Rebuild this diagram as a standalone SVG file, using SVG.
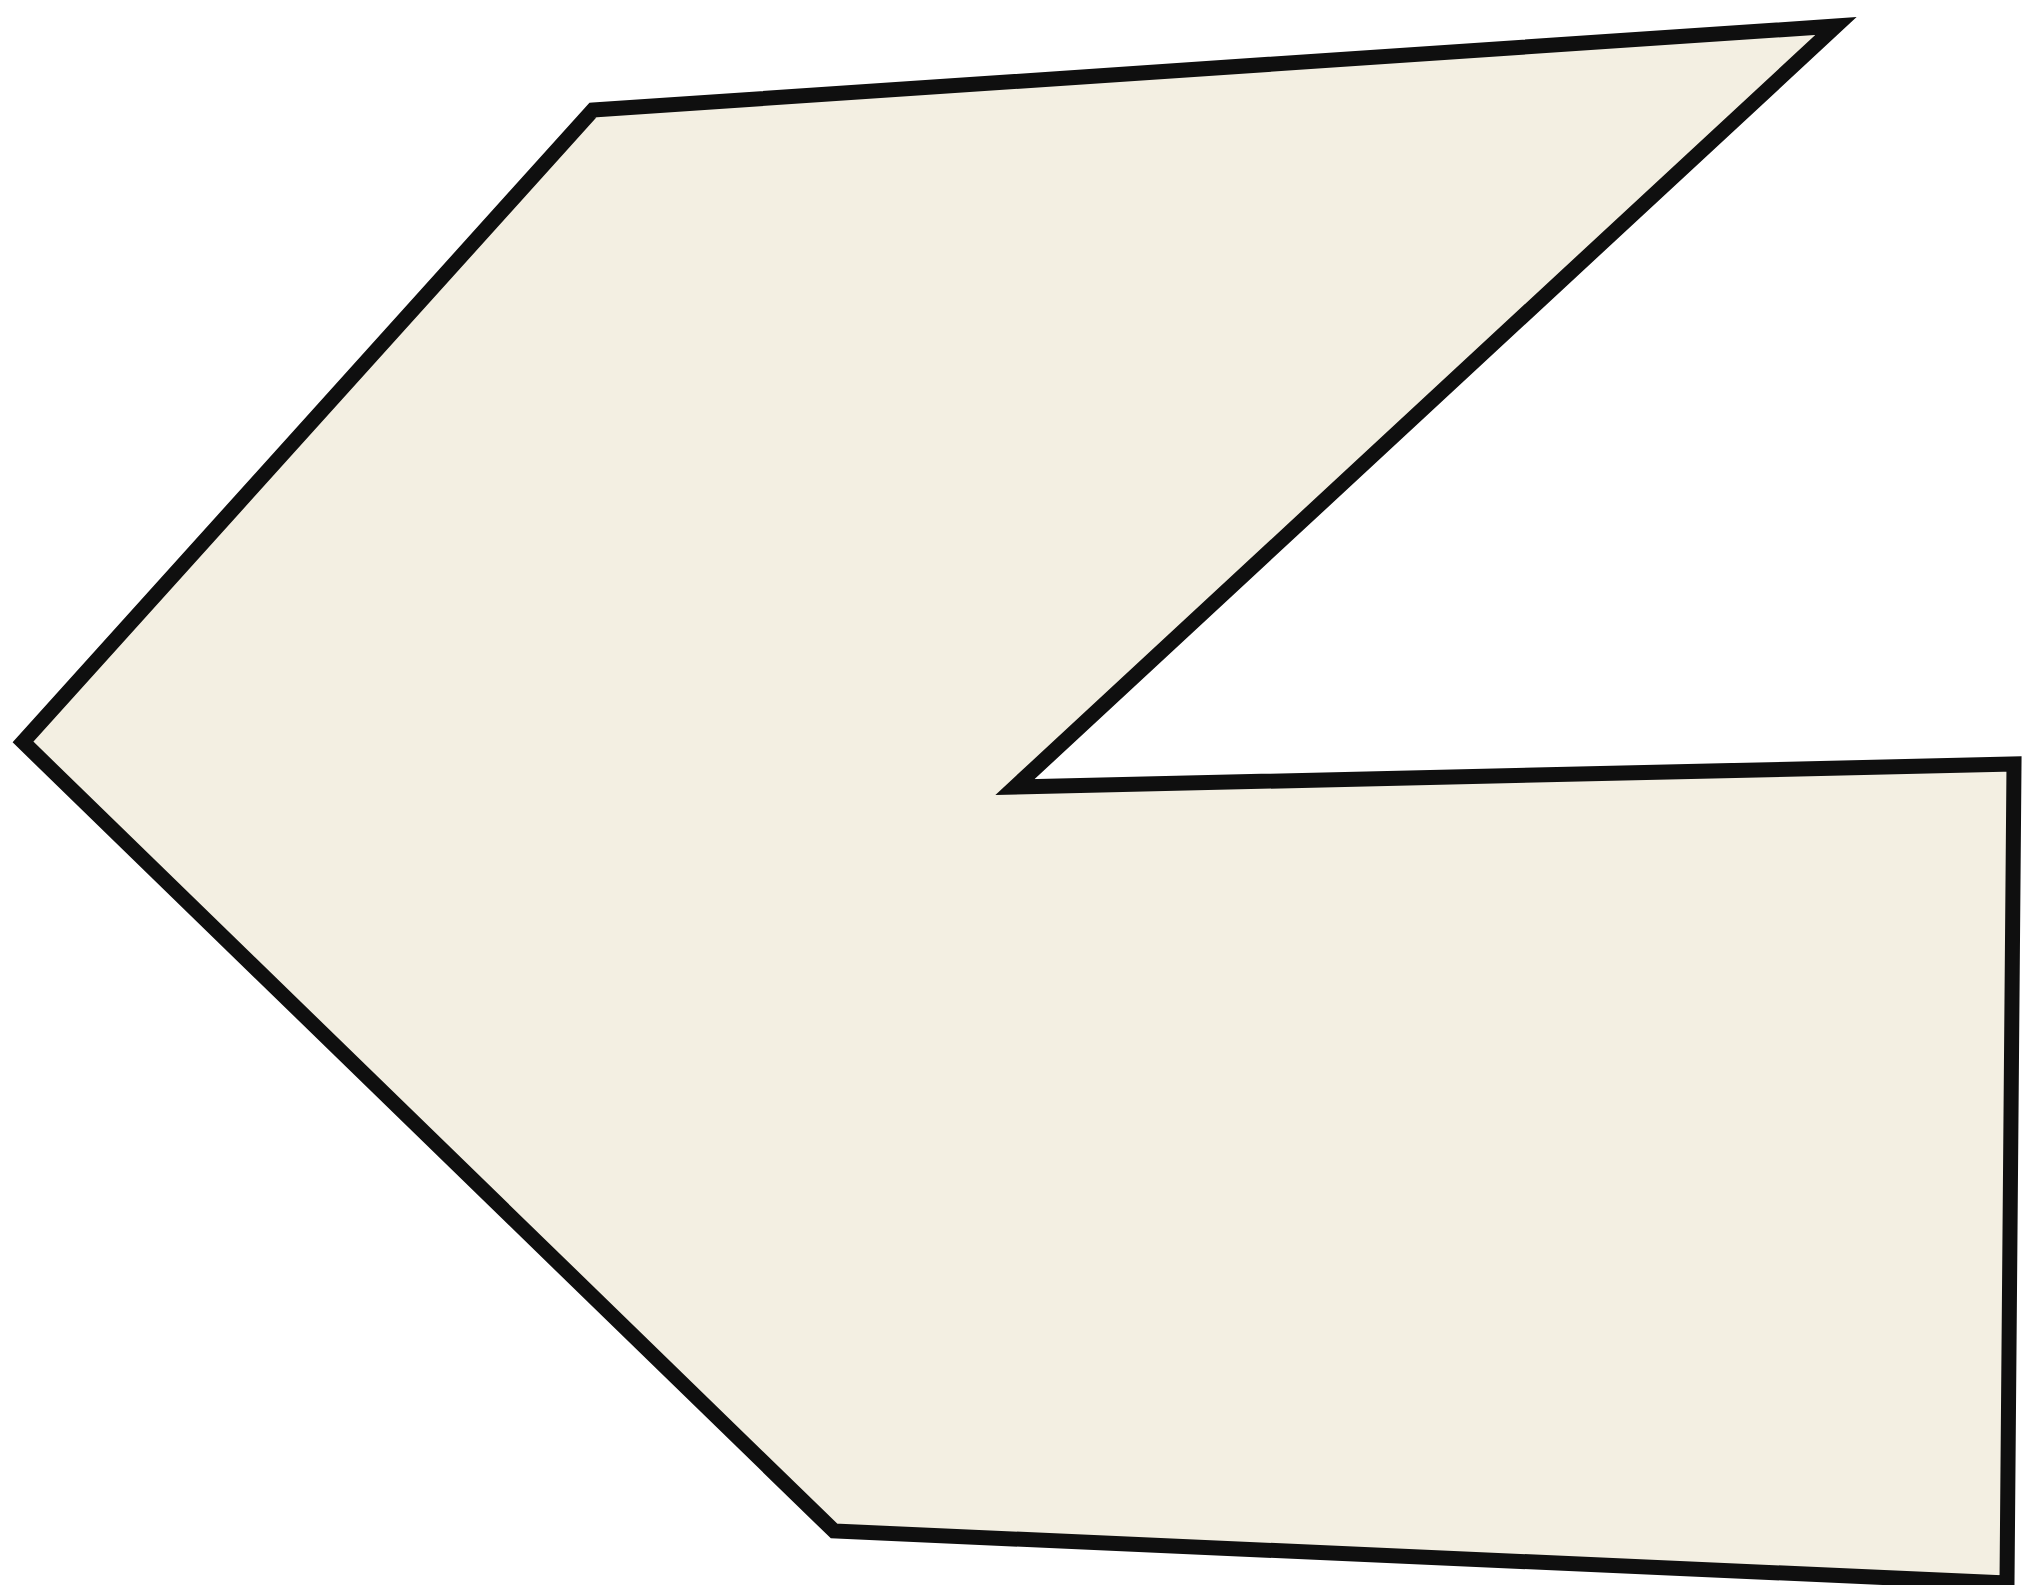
<svg xmlns="http://www.w3.org/2000/svg" width="2023" height="1585" viewBox="0 0 2023 1585">
<style>.shape{fill:#f3efe2;stroke:#0f0f0f;stroke-width:15;stroke-miterlimit:20}</style>
<rect width="2023" height="1585" fill="#ffffff"/>
<g id="shape">
<polygon class="shape" points="593,110 1836,26 1015,787 2014,764 2007,1583 834,1531 23,742"/>
</g>
</svg>
